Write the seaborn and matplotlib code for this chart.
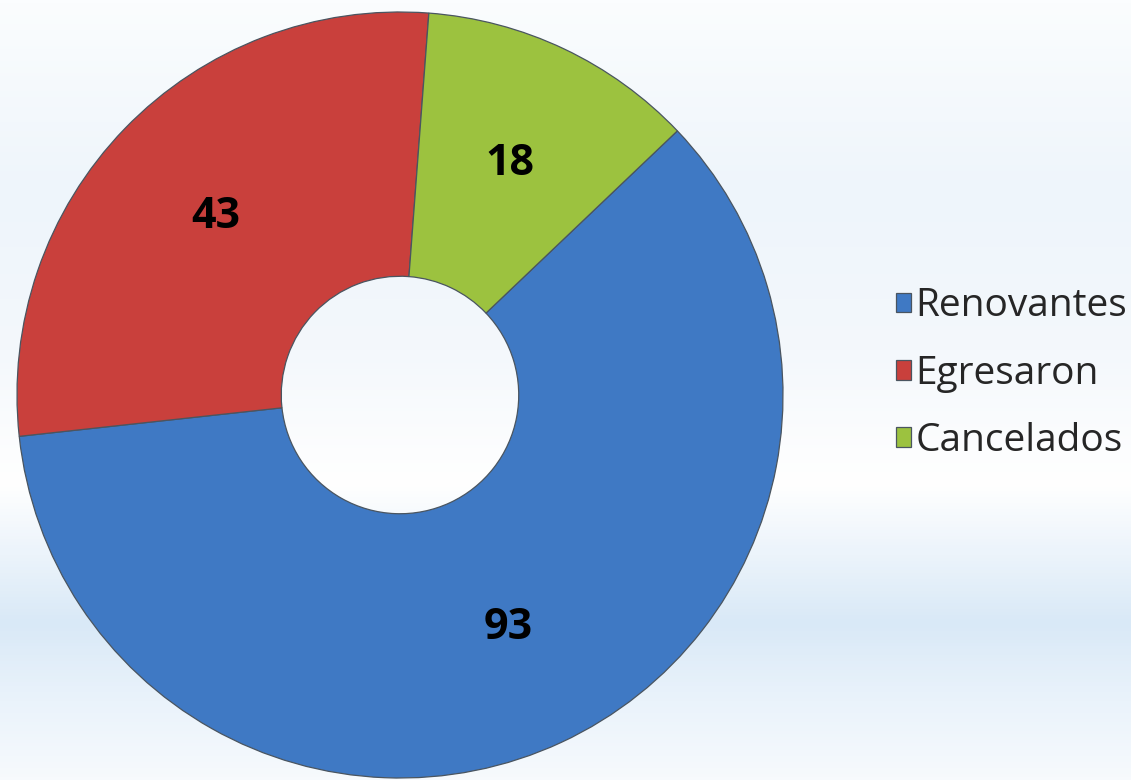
import numpy as np
import matplotlib
matplotlib.use("Agg")
import matplotlib.pyplot as plt
import seaborn as sns
from matplotlib.colors import LinearSegmentedColormap

# data
categories = ["Renovantes", "Egresaron", "Cancelados"]
values = [93, 43, 18]
colors = ["#3f79c4", "#c9403c", "#9cc23f"]

sns.set_theme(style="white")
plt.rcParams['font.family'] = ['Open Sans', 'DejaVu Sans']

fig = plt.figure(figsize=(11.31, 7.80), dpi=100)

# soft background: white with a pale blue band near the bottom
bg = fig.add_axes([0, 0, 1, 1], zorder=0)
bg_cmap = LinearSegmentedColormap.from_list(
    "bg", [(0.0, "#fbfdfe"), (0.25, "#eef5fb"), (0.45, "#f4f8fc"),
           (0.62, "#ffffff"), (0.80, "#d9e9f7"), (0.90, "#eaf3fb"), (1.0, "#f7fafd")])
grad = np.linspace(0, 1, 256).reshape(-1, 1)
bg.imshow(grad, aspect="auto", cmap=bg_cmap, extent=[0, 1, 0, 1], origin="upper")
bg.axis("off")

# donut: center ~ (400, 395) px, radius ~ 383 px
r_px = 383
ax = fig.add_axes([(400 - r_px) / 1131, (385 - r_px) / 780, 2 * r_px / 1131, 2 * r_px / 780], zorder=1)
wedges, texts, autotexts = ax.pie(
    values, colors=colors, startangle=43.6, counterclock=False,
    autopct=lambda p: f"{round(p * sum(values) / 100):d}", pctdistance=0.67,
    wedgeprops=dict(width=0.69, edgecolor="#4a5560", linewidth=0.9),
    textprops=dict(fontsize=31, fontweight="bold", color="black"))
ax.set_aspect("equal")
ax.set_xlim(-1.0, 1.0)
ax.set_ylim(-1.0, 1.0)
ax.axis("off")

leg = fig.legend(wedges, categories, loc="center left", bbox_to_anchor=(0.792, 0.521),
                 frameon=False, fontsize=28, handlelength=0.4, handleheight=0.4,
                 handletextpad=0.1, labelspacing=0.75, borderpad=0, borderaxespad=0)

fig.savefig("out.png", dpi=100)
